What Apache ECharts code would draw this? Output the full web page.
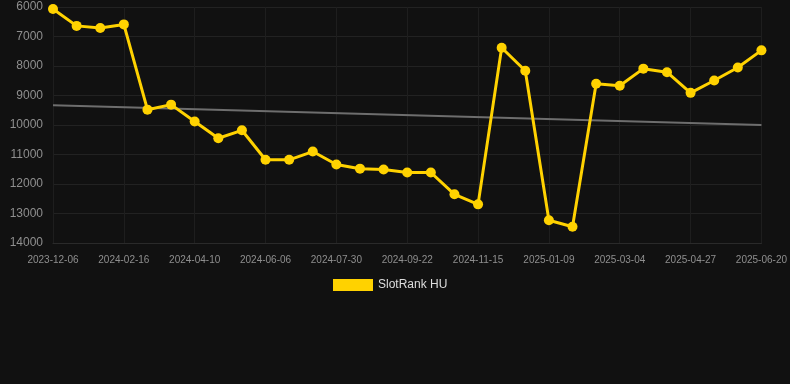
<!DOCTYPE html>
<html><head><meta charset="utf-8">
<script src="https://cdn.jsdelivr.net/npm/echarts@6/dist/echarts.min.js"></script>
<style>html,body{margin:0;padding:0;background:#111111;}#c{width:790px;height:384px;}</style>
</head><body><div id="c"></div>
<script>
const categories = ['2023-12-06','2023-12-30','2024-01-23','2024-02-16','2024-03-04','2024-03-22','2024-04-10','2024-04-29','2024-05-18','2024-06-06','2024-06-24','2024-07-12','2024-07-30','2024-08-17','2024-09-04','2024-09-22','2024-10-10','2024-10-28','2024-11-15','2024-12-03','2024-12-21','2025-01-09','2025-01-27','2025-02-14','2025-03-04','2025-03-22','2025-04-09','2025-04-27','2025-05-15','2025-06-02','2025-06-20'];
const rankValues = [6070,6640,6710,6590,9480,9310,9880,10450,10180,11180,11180,10900,11340,11480,11510,11610,11610,12350,12690,7380,8160,13230,13450,8600,8670,8090,8210,8910,8490,8050,7470];
const trendValues = [9330,null,null,null,null,null,null,null,null,null,null,null,null,null,null,null,null,null,null,null,null,null,null,null,null,null,null,null,null,null,10000];
const seriesName = 'SlotRank HU';

const chart = echarts.init(document.getElementById('c'));
chart.setOption({
  backgroundColor: '#111111',
  animation: false,
  grid: {left: 53, right: 28, top: 7, bottom: 141, containLabel: false},
  legend: {
    data: [seriesName], top: 274, left: 328,
    itemWidth: 40, itemHeight: 12, icon: 'rect',
    textStyle: {color: '#dddddd', fontSize: 12, fontFamily: 'Liberation Sans, Arial, sans-serif'}
  },
  xAxis: {
    type: 'category', data: categories, boundaryGap: false,
    axisLine: {lineStyle: {color: '#2a2a2a'}},
    axisTick: {show: false},
    axisLabel: {interval: 2, color: '#8f8f8f', fontSize: 10, margin: 12, fontFamily: 'Liberation Sans, Arial, sans-serif'},
    splitLine: {show: true, interval: 2, lineStyle: {color: '#1e1e1e'}}
  },
  yAxis: {
    type: 'value', inverse: true, min: 6000, max: 14000, interval: 1000,
    axisLine: {show: false}, axisTick: {show: false},
    axisLabel: {color: '#8f8f8f', fontSize: 12, margin: 10, formatter: v => String(v), fontFamily: 'Liberation Sans, Arial, sans-serif'},
    splitLine: {lineStyle: {color: '#222222'}}
  },
  series: [
    {
      name: 'trend', type: 'line', data: trendValues, connectNulls: true,
      symbol: 'none', lineStyle: {color: '#6e6e6e', width: 2}, silent: true, z: 1
    },
    {
      name: seriesName, type: 'line', data: rankValues,
      symbol: 'circle', symbolSize: 10,
      itemStyle: {color: '#FFD200'},
      lineStyle: {color: '#FFD200', width: 3}, z: 3
    }
  ]
});
</script></body></html>
